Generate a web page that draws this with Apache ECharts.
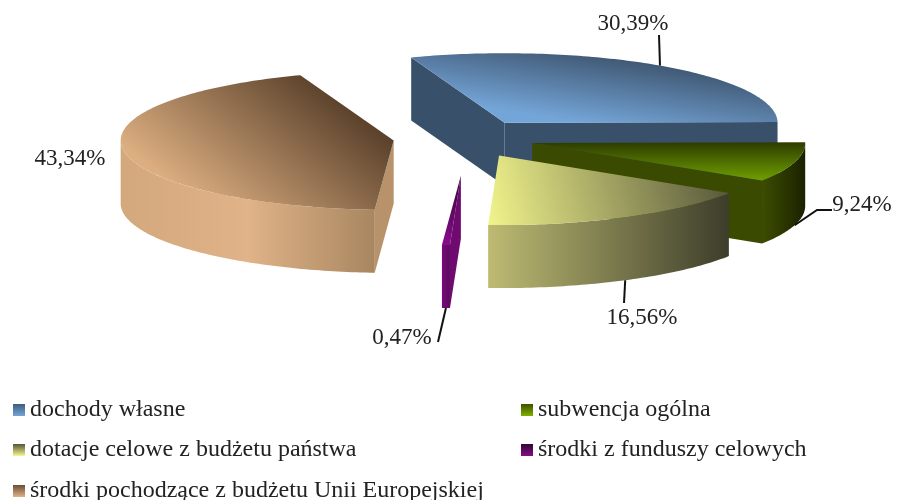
<!DOCTYPE html>
<html>
<head>
<meta charset="utf-8">
<title>Struktura dochodów</title>
<script src="https://cdn.jsdelivr.net/npm/echarts@6/dist/echarts.min.js"></script>
<style>
    html, body { margin: 0; padding: 0; background: #fff; }
    #main { width: 899px; height: 500px; }
</style>
</head>
<body>
<div id="main"></div>
<script>
// dane
const categories = [
    "dochody własne",
    "subwencja ogólna",
    "dotacje celowe z budżetu państwa",
    "środki z funduszy celowych",
    "środki pochodzące z budżetu Unii Europejskiej"
];
const shares = [30.39, 9.24, 16.56, 0.47, 43.34];

// wyglad kawalkow
const pie = { cx: 463, cy: 138, a: 273, b: 69.5, depth: 63, startAngle: 110 };
const explode = [73, 72, 78, 148, 70];
const explodeTilt = [0, 0, 0, 2.3, 0];
const sliceZ = [1, 2, 4, 3, 1];
const topColors = [
    ["#74a5d8", "#3f5772"],
    ["#6fa000", "#2e3c00"],
    ["#f2f48c", "#55553a"],
    ["#8a0a8c", "#2e0a30"],
    ["#dcae80", "#5a412b"]
];
const topDirection = [
    [0.47, 1, 0.5, 0],
    [0.5, 1, 0.5, 0],
    [0, 1, 1, 0.2],
    [0, 1, 0, 0],
    [0.3, 1, 0.7, 0]
];
const wallColors = [
    ["#34475c", "#3f5c7c"],
    ["#3c4d00", "#1a2100"],
    ["#bdbb72", "#3d3d2b"],
    ["#7a0a7c", "#5a0a5c"],
    ["#d3a87c", "#e0b388", "#a88660"]
];
const cutColors = ["#38506a", "#3a4a00", "#bdbb72", "#6e0a70", "#b8926a"];
const legendColors = [
    ["#3f5c7c", "#74a5d8"],
    ["#3f5000", "#7fb000"],
    ["#55553a", "#f7f88e"],
    ["#2e0a30", "#8a0a8c"],
    ["#6b4e34", "#e0b286"]
];
const labelPos = [[633, 24], [862, 205], [642, 318], [402, 338], [70, 159]];
const leaderEnd = [[[659, 35]], [[817, 210], [832, 210]], [[624, 303]], [[438, 342]], null];
const legendPos = [[8, 393], [516, 393], [8, 433], [516, 433], [8, 474]];
const labelFont = '23px "Liberation Serif", serif';

const total = shares.reduce(function (s, v) { return s + v; }, 0);

function grad(colors, dir) {
    const stops = colors.map(function (c, i) {
        return { offset: i / (colors.length - 1), color: c };
    });
    return new echarts.graphic.LinearGradient(dir[0], dir[1], dir[2], dir[3], stops);
}

function sliceAngles(index) {
    var before = 0;
    for (var i = 0; i < index; i++) {
        before += shares[i];
    }
    const t1 = pie.startAngle - before / total * 360;
    return [t1, t1 - shares[index] / total * 360];
}

function apexOf(index) {
    const ang = sliceAngles(index);
    const mid = ((ang[0] + ang[1]) / 2 + explodeTilt[index]) * Math.PI / 180;
    return [
        pie.cx + explode[index] * Math.cos(mid),
        pie.cy - explode[index] * Math.sin(mid) * pie.b / pie.a
    ];
}

function rimPoint(apex, deg, drop) {
    const r = deg * Math.PI / 180;
    return [apex[0] + pie.a * Math.cos(r), apex[1] - pie.b * Math.sin(r) + drop];
}

function arcPoints(apex, from, to, drop) {
    const pts = [];
    const steps = Math.max(2, Math.ceil(Math.abs(from - to)));
    for (var i = 0; i <= steps; i++) {
        pts.push(rimPoint(apex, from + (to - from) * i / steps, drop));
    }
    return pts;
}

function polygonOf(points, fill) {
    return {
        type: 'polygon',
        shape: { points: points },
        style: { fill: fill, stroke: null }
    };
}

function cutFace(apex, deg, fill) {
    const rim = rimPoint(apex, deg, 0);
    return polygonOf([
        apex, rim,
        [rim[0], rim[1] + pie.depth],
        [apex[0], apex[1] + pie.depth]
    ], fill);
}

/**
 * rysuje jeden kawalek: sciany ciecia, sciana zewnetrzna, wierzch, opis
 */
function renderSlice(params, api) {
    const index = params.seriesIndex;
    const value = api.value(0);
    const ang = sliceAngles(index);
    const t1 = ang[0], t2 = ang[1];
    const apex = apexOf(index);
    const children = [];

    // sciany ciecia tylko gdy zwrocone do przodu
    if (Math.cos(t1 * Math.PI / 180) < 0) {
        children.push(cutFace(apex, t1, cutColors[index]));
    }
    if (Math.cos(t2 * Math.PI / 180) > 0) {
        children.push(cutFace(apex, t2, cutColors[index]));
    }
    // sciana zewnetrzna - tylko przednia polowa elipsy
    const from = Math.min(t1, 0), to = Math.max(t2, -180);
    if (from > to) {
        const upper = arcPoints(apex, from, to, 0);
        const lower = arcPoints(apex, to, from, pie.depth);
        children.push(polygonOf(upper.concat(lower), grad(wallColors[index], [0, 0, 1, 0])));
    }
    // wierzch
    const top = [apex].concat(arcPoints(apex, t1, t2, 0));
    children.push(polygonOf(top, grad(topColors[index], topDirection[index])));

    // linia odniesienia
    if (leaderEnd[index]) {
        const midDeg = (t1 + t2) / 2;
        const start = rimPoint(apex, midDeg, midDeg < 0 ? pie.depth : 0);
        children.push({
            type: 'polyline',
            shape: { points: [start].concat(leaderEnd[index]) },
            style: { stroke: "#111", lineWidth: 2, fill: null }
        });
    }
    // etykieta
    children.push({
        type: 'text',
        style: {
            text: value.toFixed(2).replace(".", ",") + "%",
            x: labelPos[index][0],
            y: labelPos[index][1],
            font: labelFont,
            fill: "#222",
            align: 'center',
            verticalAlign: 'middle'
        }
    });
    return { type: 'group', children: children };
}

const series = categories.map(function (name, i) {
    return {
        type: 'custom',
        name: name,
        coordinateSystem: 'none',
        z: sliceZ[i],
        silent: true,
        renderItem: renderSlice,
        data: [[shares[i]]]
    };
});

const legends = categories.map(function (name, i) {
    return {
        left: legendPos[i][0],
        top: legendPos[i][1],
        padding: 5,
        itemWidth: 12,
        itemHeight: 12,
        selectedMode: false,
        icon: 'rect',
        textStyle: { fontFamily: '"Liberation Serif", serif', fontSize: 24, color: "#222" },
        data: [{ name: name, itemStyle: { color: grad(legendColors[i], [0, 0, 0, 1]) } }]
    };
});

const chart = echarts.init(document.getElementById("main"));
chart.setOption({
    backgroundColor: "#fff",
    animation: false,
    legend: legends,
    series: series
});
</script>
</body>
</html>
